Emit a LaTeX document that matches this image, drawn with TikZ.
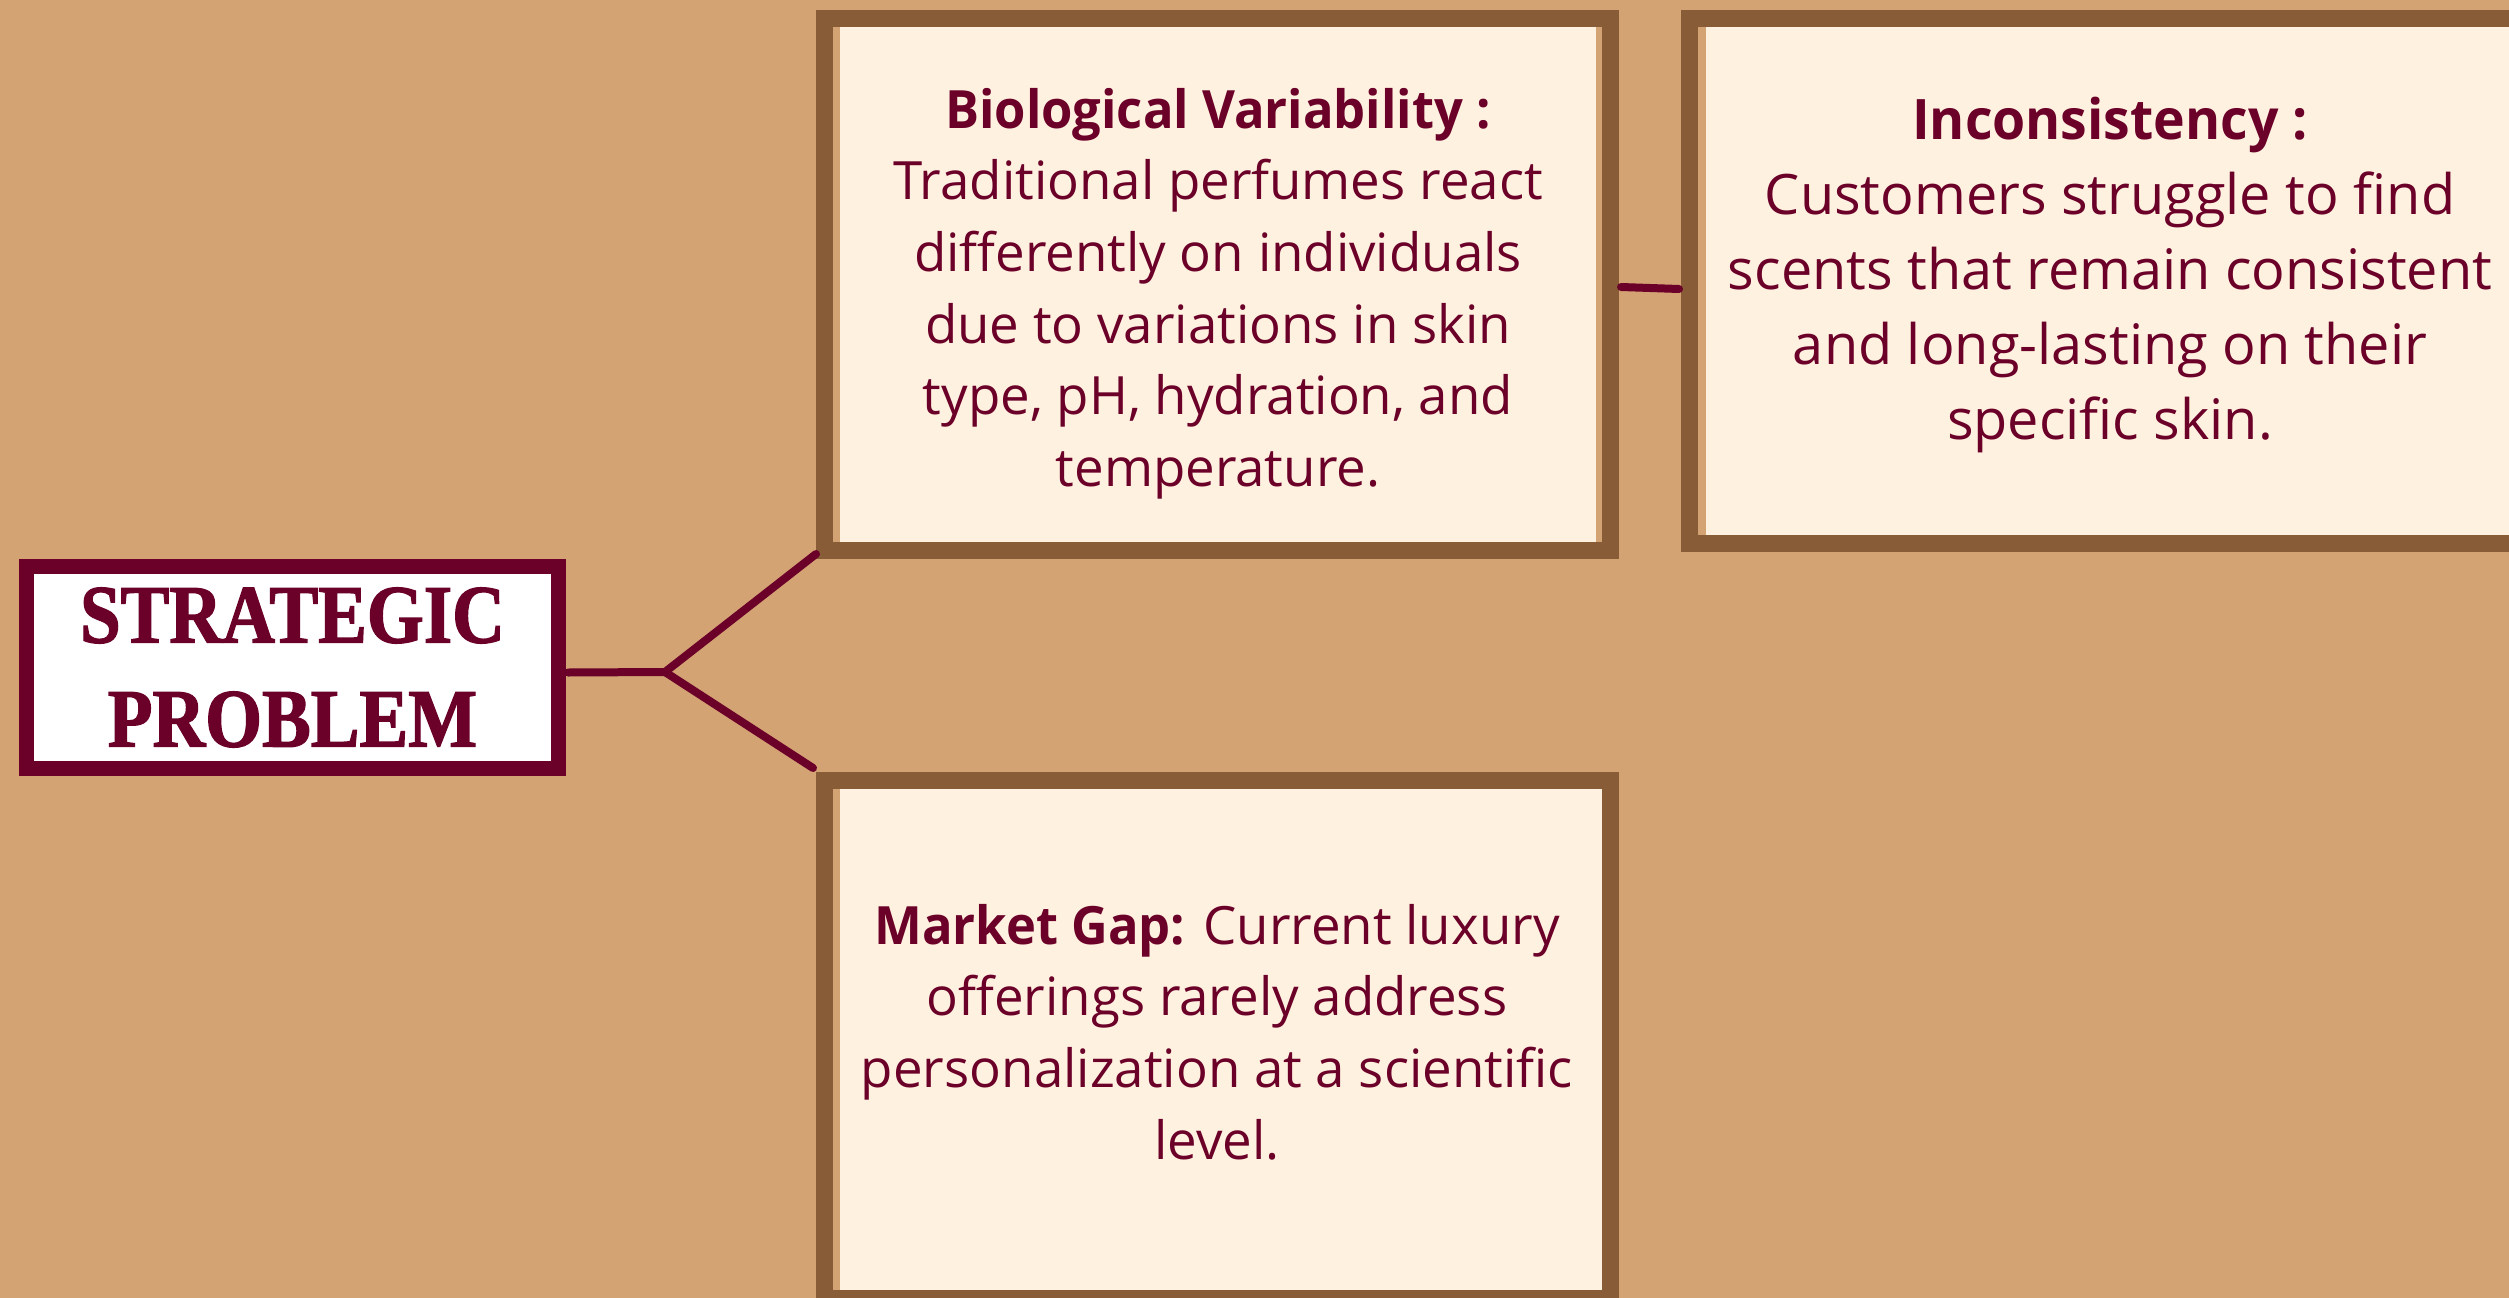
\documentclass[tikz,border=0pt]{standalone}
\usepackage{fontspec}
\setmainfont{Open Sans}[BoldFeatures={FakeStretch=0.96}]
\newfontfamily\titlefont[FakeStretch=0.88, BoldFeatures={FakeBold=1.6}]{Liberation Serif}
\usetikzlibrary{calc}

\definecolor{tanbg}{HTML}{D3A374}
\definecolor{boxbrown}{HTML}{875C37}
\definecolor{cream}{HTML}{FFF1DF}
\definecolor{wine}{HTML}{6B0029}

\begin{document}
\begin{tikzpicture}[x=1pt,y=-1pt,
  panel/.style={draw=boxbrown, line width=17pt, fill=cream, inner sep=0pt},
  body/.style={text=wine, align=center, inner sep=0pt, anchor=north,
    font=\fontsize{52.8}{71.6}\selectfont},
  bigbody/.style={body, font=\fontsize{55.8}{75}\selectfont},
  link/.style={draw=wine, line width=8pt, line cap=round, line join=round}]

% canvas
\useasboundingbox (0,0) rectangle (2509,1298);
\fill[tanbg] (0,0) rectangle (2509,1298);
\clip (0,0) rectangle (2509,1298);

% central title box
\node (strat) [draw=wine, line width=15pt, fill=white, inner sep=0pt,
  minimum width=532pt, minimum height=202pt, text=wine, align=center,
  font=\titlefont\bfseries\fontsize{83}{104}\selectfont]
  at (292.5,667.5) {STRATEGIC\\PROBLEM};

% panels
\node (bio) [panel, minimum width=786pt, minimum height=532pt] at (1217.5,284.5) {};
\node (incon) [panel, minimum width=841pt, minimum height=525pt] at (2110,281) {};
\node (market) [panel, minimum width=786pt, minimum height=518pt] at (1217.5,1039.5) {};

% thin inner strips along the panel sides
\fill[tanbg] (833,27) rectangle (840,542);
\fill[tanbg] (1596,27) rectangle (1602,542);
\fill[tanbg] (1698,27) rectangle (1706,535);
\fill[tanbg] (833,789) rectangle (840,1290);

% panel texts
\node (biotext) [body] at (1218,78) {\rule{0pt}{50pt}\textbf{Biological Variability :}\\
  Traditional perfumes react\\
  differently on individuals\\
  due to variations in skin\\
  type, pH, hydration, and\\
  temperature.};
\node (incontext) [bigbody] at (2110,89) {\rule{0pt}{50pt}\textbf{Inconsistency :}\\
  Customers struggle to find\\
  scents that remain consistent\\
  and long-lasting on their\\
  specific skin.};
\node (markettext) [body] at (1217,894) {\rule{0pt}{50pt}\textbf{Market Gap:} Current luxury\\
  offerings rarely address\\
  personalization at a scientific\\
  level.};

% connectors
\coordinate (fork) at (665,672);
\draw[link] ($(strat.east)+(2,5)$) -- (fork);
\draw[link] (fork) -- ($(bio.south west)+(0,-5)$);
\draw[link] (fork) -- ($(market.north west)+(-3,-4)$);
\draw[link] ($(bio.east)+(2,2.5)$) -- ($(incon.west)+(-2,8)$);
\end{tikzpicture}
\end{document}
